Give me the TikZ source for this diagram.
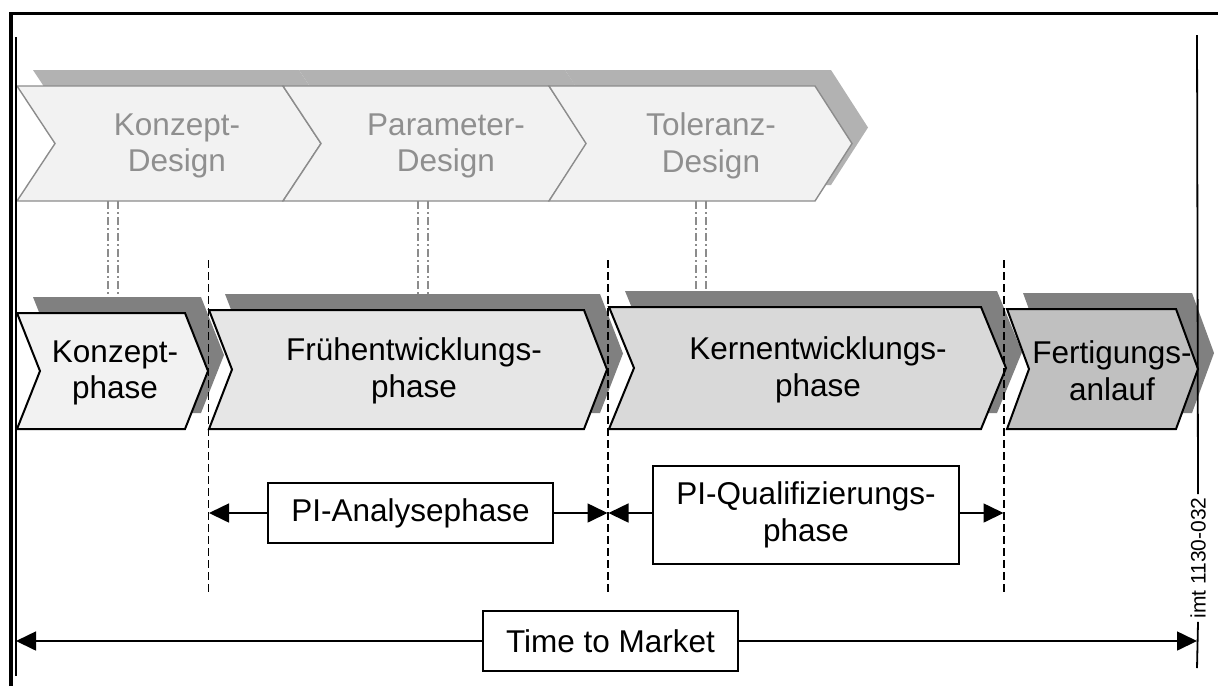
\documentclass[tikz,border=0pt]{standalone}
\usepackage{fontspec}
\setmainfont{Liberation Sans}
\usetikzlibrary{arrows.meta}

\definecolor{designfill}{HTML}{F2F2F2}
\definecolor{designline}{HTML}{8C8C8C}
\definecolor{designink}{HTML}{8F8F8F}
\definecolor{designshadow}{HTML}{B2B2B2}
\definecolor{phaseshadow}{HTML}{808080}
\definecolor{fillKonzept}{HTML}{F2F2F2}
\definecolor{fillFrueh}{HTML}{E6E6E6}
\definecolor{fillKern}{HTML}{D9D9D9}
\definecolor{fillAnlauf}{HTML}{C0C0C0}

% chevron: left x, right corner x, top y, bottom y, tip depth
\newcommand\chevpath[5]{(#1,#3) -- (#2,#3) -- ({#2+#5},{(#3+#4)/2}) -- (#2,#4) -- (#1,#4) -- ({#1+#5},{(#3+#4)/2}) -- cycle}

\begin{document}
\begin{tikzpicture}[x=0.5pt,y=-0.5pt,
  every node/.style={font=\fontsize{15.75}{18.3}\selectfont},
  dtext/.style={text=designink, align=center, inner sep=0pt},
  ptext/.style={text=black, align=center, inner sep=0pt},
  designchev/.style={draw=designline, fill=designfill, line width=0.7pt},
  phasechev/.style={draw=black, line width=1pt},
  dshadow/.style={fill=designshadow, shift={(16,-16)}},
  pshadow/.style={fill=phaseshadow, shift={(16,-16)}},
  linkline/.style={draw=designline, line width=0.75pt, dash pattern=on 4pt off 1.5pt on 1pt off 1.5pt},
  sepline/.style={draw=black, line width=0.8pt, dash pattern=on 4pt off 2pt},
  arr/.style={line width=0.8pt, -{Triangle[length=10pt,width=9.5pt]}},
  boxnode/.style={draw, line width=0.9pt, fill=white, inner sep=0pt, align=center},
  frame/.style={line width=1.6pt},
  thinframe/.style={line width=0.9pt}]

\useasboundingbox (0,0) rectangle (1218,686);

% ---- design methods (upper row) ----
\path[dshadow] \chevpath{17}{283}{86}{201}{38};
\path[dshadow] \chevpath{283}{549}{86}{201}{38};
\path[dshadow] \chevpath{549}{815}{86}{201}{37};
\path[designchev] \chevpath{17}{283}{86}{201}{38};
\path[designchev] \chevpath{283}{549}{86}{201}{38};
\path[designchev] \chevpath{549}{815}{86}{201}{37};

\node[dtext] (konzeptdesign) at (177,146) {Konzept-\\Design};
\node[dtext] (paramdesign) at (446,146) {Parameter-\\Design};
\node[dtext] (toldesign) at (711,146) {Toleranz-\\Design};

% ---- development phases (lower row) ----
\path[pshadow] \chevpath{17}{185}{313}{429}{23};
\path[pshadow] \chevpath{209}{584}{310}{429}{23};
\path[pshadow] \chevpath{609}{981}{307}{429}{25};
\path[pshadow] \chevpath{1007}{1176}{309}{429}{22};
\path[phasechev, fill=fillKonzept] \chevpath{17}{185}{313}{429}{23};
\path[phasechev, fill=fillFrueh] \chevpath{209}{584}{310}{429}{23};
\path[phasechev, fill=fillKern] \chevpath{609}{981}{307}{429}{25};
\path[phasechev, fill=fillAnlauf] \chevpath{1007}{1176}{309}{429}{22};

\node[ptext] (konzeptphase) at (115,373) {Konzept-\\phase};
\node[ptext] (fruehphase) at (414,371) {Frühentwicklungs-\\phase};
\node[ptext] (kernphase) at (818,370) {Kernentwicklungs-\\phase};
\node[ptext] (anlauf) at (1112,371) {Fertigungs-\\anlauf};

% ---- links between methods and phases ----
\coordinate (kd-b) at (113,201);  \coordinate (kp-t) at (113,297);
\coordinate (pd-b) at (423,201);  \coordinate (fp-t) at (423,294);
\coordinate (td-b) at (701,201);  \coordinate (ep-t) at (701,291);
\foreach \a/\b in {kd-b/kp-t, pd-b/fp-t, td-b/ep-t}{
  \draw[linkline] ([xshift=-2.5pt]\a) -- ([xshift=-2.5pt]\b);
  \draw[linkline] ([xshift=2.5pt]\a) -- ([xshift=2.5pt]\b);
}

% ---- phase boundaries ----
\coordinate (s1t) at (208.5,260); \coordinate (s1b) at (208.5,592);
\coordinate (s2t) at (608,260);   \coordinate (s2b) at (608,592);
\coordinate (s3t) at (1004,260);  \coordinate (s3b) at (1004,592);
\draw[sepline] (s1t) -- (s1b);
\draw[sepline] (s2t) -- (s2b);
\draw[sepline] (s3t) -- (s3b);

% ---- PI phases ----
\node[boxnode, minimum width=142.5pt, minimum height=30pt] (pianalyse) at (410.5,513) {PI-Analysephase};
\node[boxnode, minimum width=153pt, minimum height=49pt] (piqual) at (806,515) {PI-Qualifizierungs-\\phase};
\coordinate (a1l) at (209,513);  \coordinate (a1r) at (607.5,513);
\coordinate (a2l) at (608.5,513); \coordinate (a2r) at (1003.5,513);
\draw[arr] (pianalyse.west) -- (a1l);
\draw[arr] (pianalyse.east) -- (a1r);
\draw[arr] (piqual.west |- a2l) -- (a2l);
\draw[arr] (piqual.east |- a2r) -- (a2r);

% ---- time to market ----
\node[boxnode, minimum width=127.5pt, minimum height=30pt] (ttm) at (610.5,641) {Time to Market};
\coordinate (tl) at (16,641); \coordinate (tr) at (1197,641);
\draw[arr] (ttm.west) -- (tl);
\draw[arr] (ttm.east) -- (tr);

% ---- frame and time limits ----
\draw[frame] (11,686) -- (11,13.5) -- (1218,13.5);
\coordinate (startT) at (16,37); \coordinate (startB) at (16,676);
\draw[thinframe] (startT) -- (startB);
\node[rotate=90, inner sep=1.5pt, font=\fontsize{10.5}{12}\selectfont] (imt) at (1198,558) {imt 1130-032};
\coordinate (endT) at (1197,35); \coordinate (endB) at (1197,668);
\draw[thinframe] (endT) -- (imt.east);
\draw[thinframe] (imt.west) -- (endB);

\end{tikzpicture}
\end{document}
